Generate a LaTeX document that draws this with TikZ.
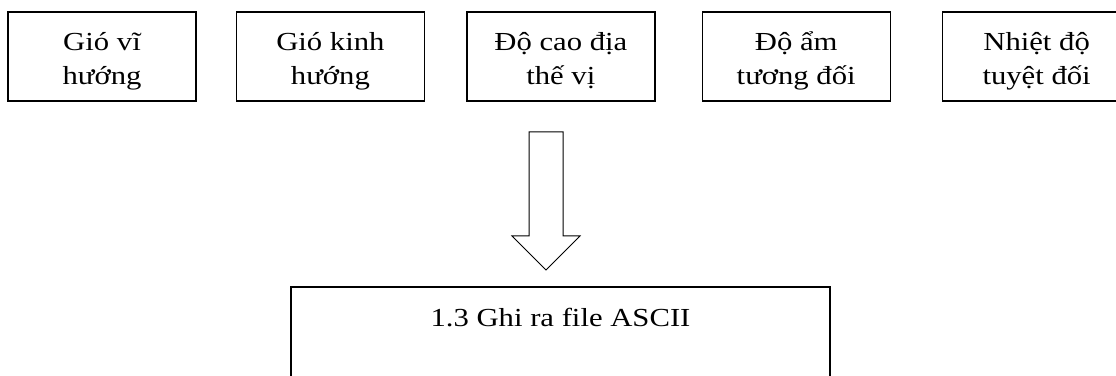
\documentclass[tikz,border=0pt]{standalone}
\usepackage{fontspec}
\setmainfont{Liberation Serif}[FakeStretch=1.18]
\usetikzlibrary{positioning, calc}
\tikzset{
    box/.style={draw, line width=1.4pt, minimum width=188pt, inner sep=0pt,
        text height=72.3pt, text depth=16.7pt,
        align=center, font=\fontsize{26}{33.6}\selectfont},
    outbox/.style={draw, line width=1.4pt, minimum width=539pt, inner sep=0pt,
        text height=39pt, text depth=100pt, font=\fontsize{26}{33.6}\selectfont},
    blockarrow/.style={draw, line width=1pt, line join=miter},
}

\begin{document}
\begin{tikzpicture}[x=1pt, y=1pt]
    \clip (0,0) rectangle (1116,375);

    \node[box] (vgio) at (102,318.5) {Gió vĩ\\hướng};
    \node[box, right=39pt of vgio] (kgio) {Gió kinh\\hướng};
    \node[box, right=41pt of kgio] (docao) {Độ cao địa\\thế vị};
    \node[box, right=46pt of docao] (doam) {Độ ẩm\\tương đối};
    \node[box, right=51pt of doam] (nhietdo) {Nhiệt độ\\tuyệt đối};

    % hollow arrow down to the output box
    \coordinate (tail) at (546,243);
    \coordinate (tip) at (546,105);
    \draw[blockarrow] ($(tail)+(-17,0)$) -- ($(tail)+(-17,-104)$)
        -- ($(tail)+(-34,-104)$) -- (tip) -- ($(tail)+(34,-104)$)
        -- ($(tail)+(17,-104)$) -- ($(tail)+(17,0)$) -- cycle;

    \node[outbox, anchor=base] (ascii) at (560.5,49) {1.3 Ghi ra file ASCII};
\end{tikzpicture}
\end{document}
